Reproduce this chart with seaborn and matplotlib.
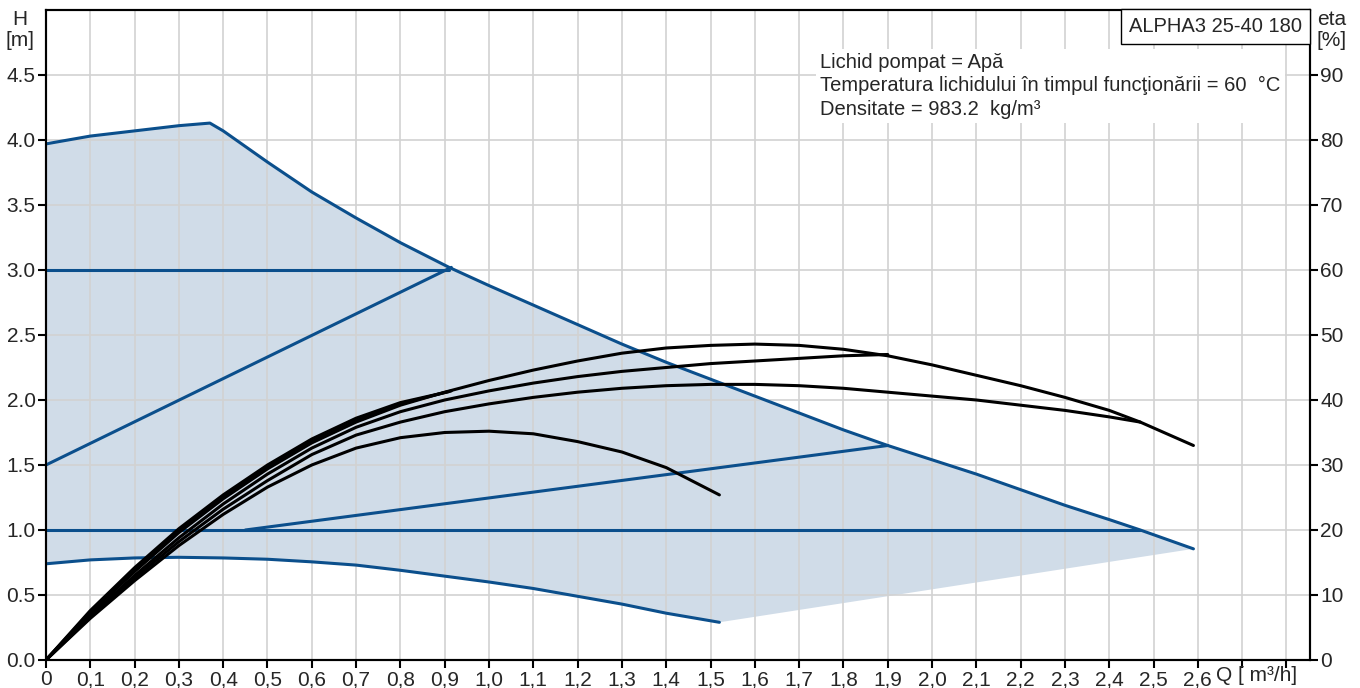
import numpy as np
import pandas as pd
import matplotlib
matplotlib.use("Agg")
import matplotlib.pyplot as plt
import matplotlib.transforms as mtransforms
import seaborn as sns

# Kurven der Pumpe (Q in m3/h, H in m)
q_max = [0, 0.1, 0.2, 0.3, 0.37, 0.4, 0.5, 0.6, 0.7, 0.8, 0.91, 1.0, 1.1, 1.2, 1.3, 1.4, 1.5,
         1.6, 1.7, 1.8, 1.9, 2.0, 2.1, 2.2, 2.3, 2.4, 2.47, 2.59]
h_max = [3.97, 4.03, 4.07, 4.11, 4.13, 4.07, 3.83, 3.60, 3.40, 3.21, 3.02, 2.88, 2.73, 2.58, 2.43,
         2.29, 2.16, 2.03, 1.90, 1.77, 1.65, 1.54, 1.43, 1.31, 1.19, 1.08, 1.0, 0.855]
q_min = [0, 0.1, 0.2, 0.3, 0.4, 0.5, 0.6, 0.7, 0.8, 0.9, 1.0, 1.1, 1.2, 1.3, 1.4, 1.52]
h_min = [0.74, 0.77, 0.785, 0.79, 0.785, 0.775, 0.755, 0.73, 0.69, 0.645, 0.60, 0.55, 0.49, 0.43,
         0.36, 0.29]

# Regelkurven
cp_high_q = [0, 0.91]
cp_high_h = [3.0, 3.0]
cp_low_q = [0, 2.47]
cp_low_h = [1.0, 1.0]
pp_high_q = [0, 0.915]
pp_high_h = [1.5, 3.02]
pp_low_q = [0.45, 1.9]
pp_low_h = [1.0, 1.65]

# Wirkungsgrad eta [%]
q_eta_max = [0, 0.1, 0.2, 0.3, 0.4, 0.5, 0.6, 0.7, 0.8, 0.9, 1.0, 1.1, 1.2, 1.3, 1.4, 1.5, 1.6,
             1.7, 1.8, 1.9, 2.0, 2.1, 2.2, 2.3, 2.4, 2.47, 2.59]
eta_max = [0, 7.2, 13.6, 19.6, 24.8, 29.4, 33.4, 36.6, 39.2, 41.2, 43.0, 44.6, 46.0, 47.2, 48.0,
           48.4, 48.6, 48.4, 47.8, 46.8, 45.4, 43.8, 42.2, 40.4, 38.4, 36.6, 33.0]
q_eta_cph = [0, 0.1, 0.2, 0.3, 0.4, 0.5, 0.6, 0.7, 0.8, 0.91]
eta_cph = [0, 7.6, 14.2, 20.2, 25.4, 30.0, 34.0, 37.2, 39.6, 41.3]
q_eta_pph = [0, 0.1, 0.2, 0.3, 0.4, 0.5, 0.6, 0.7, 0.8, 0.915]
eta_pph = [0, 7.4, 13.8, 19.8, 25.0, 29.6, 33.6, 36.8, 39.4, 41.4]
q_eta_ppl = [0, 0.1, 0.2, 0.3, 0.4, 0.5, 0.6, 0.7, 0.8, 0.9, 1.0, 1.1, 1.2, 1.3, 1.4, 1.5, 1.6,
             1.7, 1.8, 1.9]
eta_ppl = [0, 6.8, 13.0, 18.8, 24.0, 28.6, 32.6, 35.8, 38.2, 40.0, 41.4, 42.6, 43.6, 44.4, 45.0,
           45.6, 46.0, 46.4, 46.8, 47.0]
q_eta_cpl = [0, 0.1, 0.2, 0.3, 0.4, 0.5, 0.6, 0.7, 0.8, 0.9, 1.0, 1.1, 1.2, 1.3, 1.4, 1.5, 1.6,
             1.7, 1.8, 1.9, 2.0, 2.1, 2.2, 2.3, 2.4, 2.47]
eta_cpl = [0, 6.6, 12.6, 18.2, 23.2, 27.6, 31.6, 34.6, 36.6, 38.2, 39.4, 40.4, 41.2, 41.8, 42.2,
           42.4, 42.4, 42.2, 41.8, 41.2, 40.6, 40.0, 39.2, 38.4, 37.4, 36.6]
q_eta_min = [0, 0.1, 0.2, 0.3, 0.4, 0.5, 0.6, 0.7, 0.8, 0.9, 1.0, 1.1, 1.2, 1.3, 1.4, 1.52]
eta_min = [0, 6.4, 12.2, 17.6, 22.4, 26.6, 30.0, 32.6, 34.2, 35.0, 35.2, 34.8, 33.6, 32.0, 29.6,
           25.4]

x_ticks = [round(0.1 * i, 1) for i in range(29)]
y_ticks = [0.0, 0.5, 1.0, 1.5, 2.0, 2.5, 3.0, 3.5, 4.0, 4.5]
eta_ticks = [0, 10, 20, 30, 40, 50, 60, 70, 80, 90]

title = "ALPHA3 25-40 180"
info = ("Lichid pompat = Apă\n"
        "Temperatura lichidului în timpul funcţionării = 60  °C\n"
        "Densitate = 983.2  kg/m³")

sns.set_theme(style="ticks")
plt.rcParams['font.family'] = ['Liberation Sans', 'DejaVu Sans']

blue = '#0b4f8c'
fs = 15
fig = plt.figure(figsize=(13.6, 6.88), dpi=100)
ax = fig.add_axes([0.0338, 0.0407, 0.9294, 0.9448])

# Arbeitsbereich
poly_q = list(q_max) + list(q_min[::-1])
poly_h = list(h_max) + list(h_min[::-1])
ax.fill(poly_q, poly_h, color='#d0dce8', lw=0, zorder=1)

for qq, hh in [(q_max, h_max), (q_min, h_min), (cp_high_q, cp_high_h), (cp_low_q, cp_low_h),
               (pp_high_q, pp_high_h), (pp_low_q, pp_low_h)]:
    sns.lineplot(x=qq, y=hh, ax=ax, color=blue, lw=2.2, sort=False, estimator=None, zorder=3)

ax.set_xlim(0, 2.853)
ax.set_ylim(0, 5.0)
ax.set_xticks(x_ticks)
ax.set_xticklabels(["0" if v == 0 else ("" if v > 2.65 else f"{v:.1f}".replace('.', ','))
                    for v in x_ticks])
ax.set_yticks(y_ticks)
ax.set_yticklabels([f"{v:.1f}" for v in y_ticks])
ax.grid(True, color='#d2d2d2', lw=1.2)
ax.set_axisbelow('line')
ax.tick_params(axis='both', labelsize=fs, length=6, width=1.5, color='black', pad=1.5)
for s in ax.spines.values():
    s.set_color('black')
    s.set_linewidth(1.5)
ax.set_xlabel("")
ax.set_ylabel("")

ax2 = ax.twinx()
for qq, ee in [(q_eta_min, eta_min), (q_eta_cpl, eta_cpl), (q_eta_ppl, eta_ppl),
               (q_eta_pph, eta_pph), (q_eta_cph, eta_cph), (q_eta_max, eta_max)]:
    sns.lineplot(x=qq, y=ee, ax=ax2, color='black', lw=2.2, sort=False, estimator=None)
ax2.set_ylim(0, 100)
ax2.set_yticks(eta_ticks)
ax2.set_yticklabels([str(v) for v in eta_ticks])
ax2.tick_params(axis='y', labelsize=fs, length=6, width=1.5, color='black', pad=1.5)
ax2.set_ylabel("")
for s in ax2.spines.values():
    s.set_color('black')
    s.set_linewidth(1.5)

trans = mtransforms.blended_transform_factory(ax.transData, ax.transAxes)
ax.text(2.64, -0.01, "Q [ m³/h]", transform=trans, ha='left', va='top', fontsize=fs)

ax2.text(0.9935, 0.989, title, transform=ax2.transAxes, ha='right', va='top', fontsize=14.5,
         zorder=6, bbox=dict(boxstyle='square,pad=0.4', fc='white', ec='black', lw=1.0))
ax2.text(0.6125, 0.934, info, transform=ax2.transAxes, ha='left', va='top', fontsize=14.5,
         linespacing=1.3, zorder=6,
         bbox=dict(boxstyle='square,pad=0.2', fc='white', ec='none'))

fig.text(0.0147, 0.985, "H\n[m]", ha='center', va='top', fontsize=fs, linespacing=1.1)
fig.text(0.979, 0.985, "eta\n[%]", ha='center', va='top', fontsize=fs, linespacing=1.1)

plt.savefig("out.png", dpi=100)
plt.close()
